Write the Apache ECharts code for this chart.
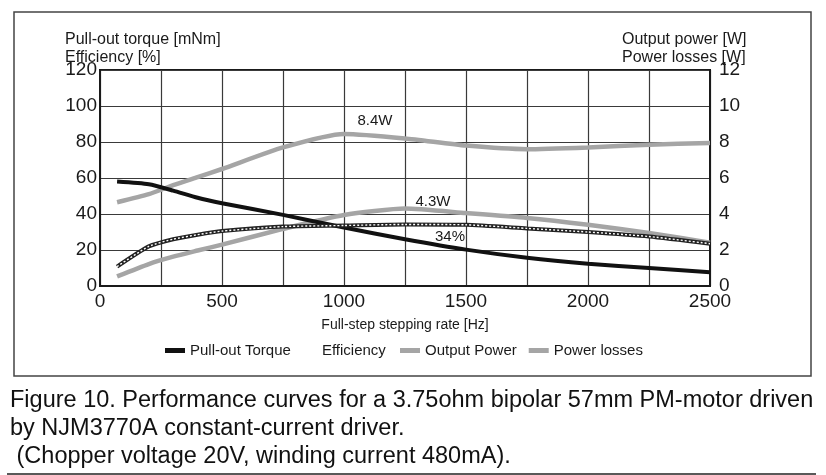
<!DOCTYPE html>
<html>
<head>
<meta charset="utf-8">
<script src="https://cdn.jsdelivr.net/npm/echarts@6/dist/echarts.min.js"></script>
<style>
html,body{margin:0;padding:0;background:#fff;}
#chart{width:826px;height:475px;}
</style>
</head>
<body>
<div id="chart"></div>
<script>
// Data
const freqs = [70, 200, 300, 400, 500, 750, 1000, 1250, 1500, 1750, 2000, 2250, 2500];
const torque = [58, 56.5, 53, 49, 46, 39.5, 32.5, 26, 20.2, 15.7, 12.4, 10, 7.6];
const efficiency = [10.8, 22, 26, 28.5, 30.5, 33, 33.6, 34.2, 34, 32, 30, 27.5, 23.5];
const outputPower = [0.53, 1.22, 1.63, 1.97, 2.3, 3.17, 3.94, 4.3, 4.05, 3.78, 3.4, 2.95, 2.4];
const powerLosses = [4.65, 5.1, 5.6, 6.05, 6.5, 7.7, 8.45, 8.2, 7.8, 7.6, 7.7, 7.85, 7.95];
const leftTicks = [0, 20, 40, 60, 80, 100, 120];
const rightTicks = [0, 2, 4, 6, 8, 10, 12];
const xTickLabels = [0, 500, 1000, 1500, 2000, 2500];

const pairs = (ys) => freqs.map((f, i) => [f, ys[i]]);
const txt = '#1a1a1a';
const gray = '#a5a5a5';
const font = 'Arial, "Liberation Sans", sans-serif';

const legendBase = {top: 338, itemWidth: 20, itemHeight: 5, icon: 'rect',
  textStyle: {fontSize: 15, color: txt, fontFamily: font}};

const chart = echarts.init(document.getElementById('chart'), null, {renderer: 'canvas'});
chart.setOption({
  animation: false,
  backgroundColor: '#fff',
  textStyle: {fontFamily: font, color: txt},
  title: [
    {text: 'Pull-out torque [mNm]\nEfficiency [%]', left: 60, top: 26,
     textStyle: {fontSize: 16, fontWeight: 'normal', color: txt, lineHeight: 18, fontFamily: font}},
    {text: 'Output power [W]\nPower losses [W]', left: 617, top: 26,
     textStyle: {fontSize: 16, fontWeight: 'normal', color: txt, lineHeight: 18, fontFamily: font}}
  ],
  grid: {left: 100, right: 116, top: 70, bottom: 189, show: true, borderColor: '#1a1a1a', borderWidth: 2},
  legend: [
    Object.assign({}, legendBase, {left: 160, itemGap: 6, data: [
      {name: 'Pull-out Torque'},
      {name: 'Efficiency', itemStyle: {color: 'rgba(0,0,0,0)', opacity: 0}}
    ]}),
    Object.assign({}, legendBase, {left: 395, itemGap: 12, data: [
      {name: 'Output Power'},
      {name: 'Power losses'}
    ]})
  ],
  xAxis: {
    type: 'value', min: 0, max: 2500, interval: 250,
    name: 'Full-step stepping rate [Hz]', nameLocation: 'middle', nameGap: 32,
    nameTextStyle: {fontSize: 14, color: txt, fontFamily: font},
    axisLine: {show: true, lineStyle: {color: '#1a1a1a', width: 2}},
    axisTick: {show: false},
    axisLabel: {fontSize: 19, color: txt, margin: 6, fontFamily: font,
      formatter: (v) => xTickLabels.includes(v) ? String(v) : ''},
    splitLine: {show: true, lineStyle: {color: '#3a3a3a', width: 1.2}}
  },
  yAxis: [
    {type: 'value', min: leftTicks[0], max: leftTicks[leftTicks.length - 1], interval: 20,
     axisLine: {show: true, lineStyle: {color: '#1a1a1a', width: 2}},
     axisTick: {show: false},
     axisLabel: {fontSize: 19, color: txt, margin: 3, fontFamily: font},
     splitLine: {show: true, lineStyle: {color: '#3a3a3a', width: 1.2}}},
    {type: 'value', min: rightTicks[0], max: rightTicks[rightTicks.length - 1], interval: 2,
     axisLine: {show: true, lineStyle: {color: '#1a1a1a', width: 2}},
     axisTick: {show: false},
     axisLabel: {fontSize: 19, color: txt, margin: 9, fontFamily: font},
     splitLine: {show: false}}
  ],
  series: [
    {name: 'Power losses', type: 'line', yAxisIndex: 1, data: pairs(powerLosses), smooth: 0.2,
     showSymbol: false, lineStyle: {color: gray, width: 4.5}, itemStyle: {color: gray}, z: 2,
     markPoint: {symbol: 'circle', symbolSize: 0,
       label: {show: true, formatter: '8.4W', fontSize: 15, color: txt, offset: [31, -13], fontFamily: font},
       data: [{coord: [1000, 8.45]}]}},
    {name: 'Output Power', type: 'line', yAxisIndex: 1, data: pairs(outputPower), smooth: 0.2,
     showSymbol: false, lineStyle: {color: gray, width: 4.5}, itemStyle: {color: gray}, z: 2,
     markPoint: {symbol: 'circle', symbolSize: 0,
       label: {show: true, formatter: '4.3W', fontSize: 15, color: txt, offset: [28, -7], fontFamily: font},
       data: [{coord: [1250, 4.3]}]}},
    {name: 'Pull-out Torque', type: 'line', data: pairs(torque), smooth: 0.2,
     showSymbol: false, lineStyle: {color: '#111', width: 4}, itemStyle: {color: '#111'}, z: 3},
    {name: 'Efficiency', type: 'line', data: pairs(efficiency), smooth: 0.2,
     showSymbol: false, lineStyle: {color: '#222', width: 4}, itemStyle: {color: '#222'}, z: 4,
     markPoint: {symbol: 'circle', symbolSize: 0,
       label: {show: true, formatter: '34%', fontSize: 15, color: txt, offset: [45, 12], fontFamily: font},
       data: [{coord: [1250, 34.2]}]}},
    {name: 'eff-dots', type: 'line', data: pairs(efficiency), smooth: 0.2, silent: true,
     showSymbol: false, lineStyle: {color: '#fff', width: 1.4, type: [2, 2]}, z: 5}
  ],
  graphic: [
    {type: 'rect', shape: {x: 14, y: 12, width: 797, height: 364}, silent: true,
     style: {fill: 'none', stroke: '#444', lineWidth: 1.5}, z: -1},
    {type: 'line', shape: {x1: 7, y1: 474, x2: 816, y2: 474}, style: {stroke: '#222', lineWidth: 1.5}},
    {type: 'text', left: 10, top: 389, style: {text: 'Figure 10. Performance curves for a 3.75ohm bipolar 57mm PM-motor driven', font: '23.5px ' + font, fill: '#111'}},
    {type: 'text', left: 10, top: 417, style: {text: 'by NJM3770A constant-current driver.', font: '23.5px ' + font, fill: '#111'}},
    {type: 'text', left: 10, top: 445, style: {text: ' (Chopper voltage 20V, winding current 480mA).', font: '23.5px ' + font, fill: '#111'}}
  ]
});
</script>
</body>
</html>
